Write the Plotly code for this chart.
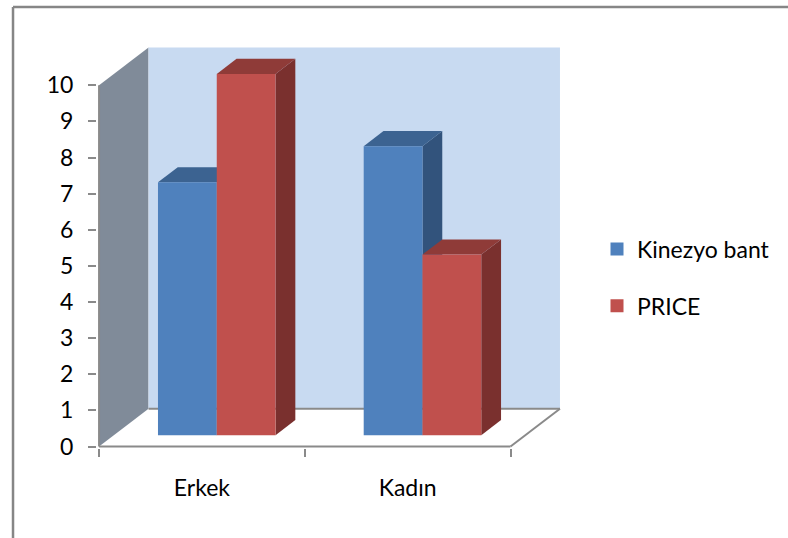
import plotly.graph_objects as go

# ---- data -------------------------------------------------------------
categories = ["Erkek", "Kadın"]
series_names = ["Kinezyo bant", "PRICE"]
kinezyo_bant = [7, 8]
price = [10, 5]
y_ticks = list(range(0, 11))

series_values = [kinezyo_bant, price]

# ---- styling ----------------------------------------------------------
front_colors = ["#4F81BD", "#C0504D"]
top_colors = ["#3C6391", "#8F3B38"]
side_colors = ["#32537C", "#7A302E"]
BACK_WALL = "#C8DAF1"
SIDE_WALL = "#808B99"
EDGE = "#8A8A8A"
FONT = "Lato"
FONT_SIZE = 23

# oblique projection: a full step of depth moves right by DX categories
# and up by DY value units
DX = 0.2405
DY = 1.047
Y_TOP = 10
GAP = 1.5                       # gap width relative to one bar
W = 1.0 / (2 + GAP)             # bar width in category units
F0, F1 = 0.3, 0.7               # depth span of the bars
N = len(categories)

fig = go.Figure()


def poly(xs, ys, color):
    fig.add_trace(go.Scatter(
        x=xs + [xs[0]], y=ys + [ys[0]], mode="lines", fill="toself",
        fillcolor=color, line=dict(width=0, color=color),
        hoverinfo="skip", showlegend=False))


def seg(xs, ys, color=EDGE, width=2):
    fig.add_trace(go.Scatter(
        x=xs, y=ys, mode="lines", line=dict(color=color, width=width),
        hoverinfo="skip", showlegend=False))


# walls and floor
poly([0, 0, DX, DX], [0, Y_TOP, Y_TOP + DY, DY], SIDE_WALL)
poly([DX, DX, N + DX, N + DX], [DY, Y_TOP + DY, Y_TOP + DY, DY], BACK_WALL)
seg([DX, N + DX], [DY, DY])
seg([N, N + DX], [0, DY])
seg([0, N], [0, 0])
seg([0, 0], [0, Y_TOP])

# 3D columns, drawn back-to-front / left-to-right
dxd = (F1 - F0) * DX
for c in range(N):
    for s, vals in enumerate(series_values):
        v = vals[c]
        xl = c + GAP * W / 2 + s * W + F0 * DX
        xr = xl + W
        yb = F0 * DY
        yt = v + F0 * DY
        ytb = v + F1 * DY
        # right side
        poly([xr, xr, xr + dxd, xr + dxd], [yb, yt, ytb, F1 * DY], side_colors[s])
        # top
        poly([xl, xr, xr + dxd, xl + dxd], [yt, yt, ytb, ytb], top_colors[s])
        # front
        poly([xl, xr, xr, xl], [yb, yb, yt, yt], front_colors[s])

# legend entries
for s, name in enumerate(series_names):
    fig.add_trace(go.Scatter(
        x=[None], y=[None], mode="markers", name=name,
        legendgroup=name,
        marker=dict(symbol="square", size=13, color=front_colors[s]),
    ))

fig.update_layout(
    width=788, height=538,
    margin=dict(l=97, r=227, t=47, b=90, autoexpand=False),
    paper_bgcolor="white", plot_bgcolor="white",
    font=dict(family=FONT, size=FONT_SIZE, color="#000000"),
    showlegend=True,
    legend=dict(
        x=(597 - 97) / 464, y=0.55, xanchor="left", yanchor="top",
        traceorder="grouped", tracegroupgap=24,
        font=dict(family=FONT, size=FONT_SIZE, color="#000000"),
        bgcolor="rgba(0,0,0,0)",
    ),
    xaxis=dict(
        range=[-0.01, N + DX + 0.005], showgrid=False, zeroline=False,
        showline=False, tickmode="array", tickvals=[c + 0.5 for c in range(N)],
        ticktext=categories, ticks="", ticklabelstandoff=24,
        minor=dict(tickmode="array", tickvals=list(range(N + 1)),
                   ticks="outside", ticklen=8, tickwidth=2, tickcolor=EDGE),
        fixedrange=True,
    ),
    yaxis=dict(
        range=[-0.04, Y_TOP + DY + 0.013], showgrid=False, zeroline=False,
        showline=False, tickmode="array", tickvals=y_ticks,
        ticks="outside", ticklen=8, tickwidth=2, tickcolor=EDGE,
        ticklabelstandoff=10, fixedrange=True,
    ),
    shapes=[
        dict(type="line", xref="paper", yref="paper",
             x0=-0.181, x1=1.5, y0=1.0998, y1=1.0998,
             line=dict(color="#868686", width=2.5)),
        dict(type="line", xref="paper", yref="paper",
             x0=-0.181, x1=-0.181, y0=1.0998, y1=-0.3,
             line=dict(color="#868686", width=2.5)),
    ],
)

fig.write_html("out.html")
